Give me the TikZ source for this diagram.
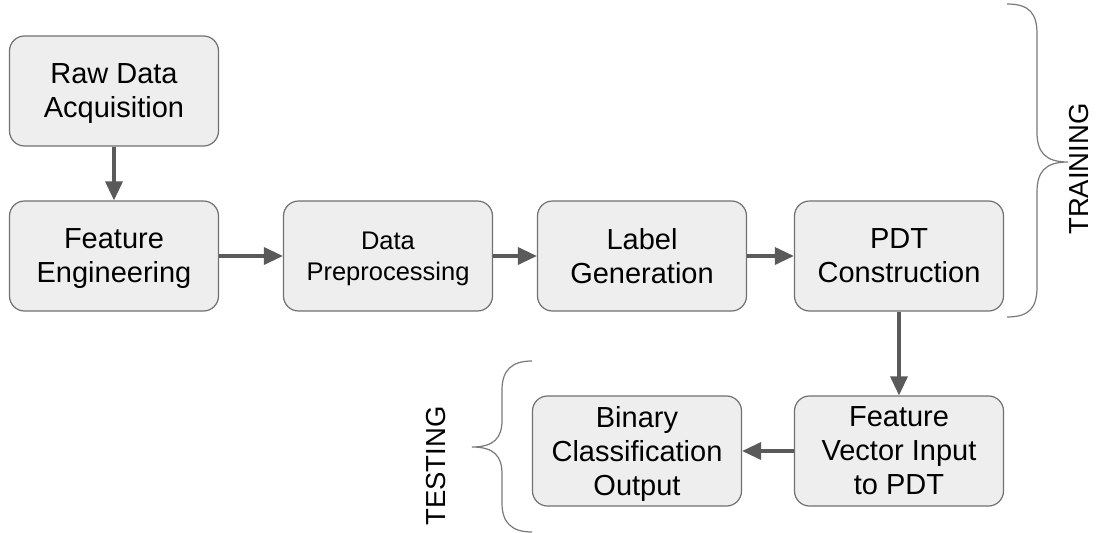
\documentclass[tikz,border=0pt]{standalone}
\usepackage{fontspec}
\setmainfont{Liberation Sans}
\usetikzlibrary{arrows.meta, positioning}
\definecolor{boxfill}{HTML}{EEEEEE}
\definecolor{boxline}{HTML}{707070}
\definecolor{arrowgray}{HTML}{5A5A5A}
\definecolor{bracegray}{HTML}{7A7A7A}

\begin{document}
\begin{tikzpicture}[x=1pt,y=-1pt,
	stage/.style={draw=boxline, line width=1.2pt, fill=boxfill, rounded corners=15pt,
		minimum width=209pt, minimum height=110pt, align=center, text depth=0pt,
		font=\fontsize{29}{34}\selectfont},
	flow/.style={draw=arrowgray, line width=3.5pt, -{Triangle[length=19pt,width=17pt]}},
	bracket/.style={draw=bracegray, line width=1.2pt},
	phase/.style={font=\fontsize{27.5}{30}\selectfont, rotate=90}]
	\useasboundingbox (0,0) rectangle (1096,533);

	\draw (114,91)  node[stage] (raw)  {Raw Data\\Acquisition}
		(114,256)  node[stage] (feat) {Feature\\Engineering}
		(388,256)  node[stage, font=\fontsize{25.5}{31}\selectfont] (prep) {Data\\Preprocessing}
		(642,256)  node[stage] (lab)  {Label\\Generation}
		(899,256)  node[stage] (pdt)  {PDT\\Construction}
		(899,451)  node[stage] (vec)  {Feature\\Vector Input\\to PDT}
		(637,451)  node[stage] (bin)  {Binary\\Classification\\Output};

	\draw[flow] (raw) -- (feat);
	\draw[flow] (feat) -- (prep);
	\draw[flow] (prep) -- (lab);
	\draw[flow] (lab) -- (pdt);
	\draw[flow] (pdt) -- (vec);
	\draw[flow] (vec) -- (bin);

	% training brace
	\coordinate (ttop) at (1007,4);
	\coordinate (ttip) at (1068,162);
	\coordinate (tbot) at (1007,317);
	\draw[bracket] (ttop) .. controls (1030,4) and (1037,14) .. (1037,34)
		-- (1037,132) .. controls (1037,152) and (1045,162) .. (ttip)
		.. controls (1045,162) and (1037,172) .. (1037,192)
		-- (1037,287) .. controls (1037,307) and (1030,317) .. (tbot);
	\node[phase] (train) at (1079,169) {TRAINING};

	% testing brace
	\coordinate (stop) at (532,361);
	\coordinate (stip) at (472,447);
	\coordinate (sbot) at (532,532);
	\draw[bracket] (stop) .. controls (512,361) and (502,370) .. (502,390)
		-- (502,420) .. controls (502,438) and (494,447) .. (stip)
		.. controls (494,447) and (502,456) .. (502,474)
		-- (502,503) .. controls (502,523) and (512,532) .. (sbot);
	\node[phase] (test) at (436,466) {TESTING};
\end{tikzpicture}
\end{document}
